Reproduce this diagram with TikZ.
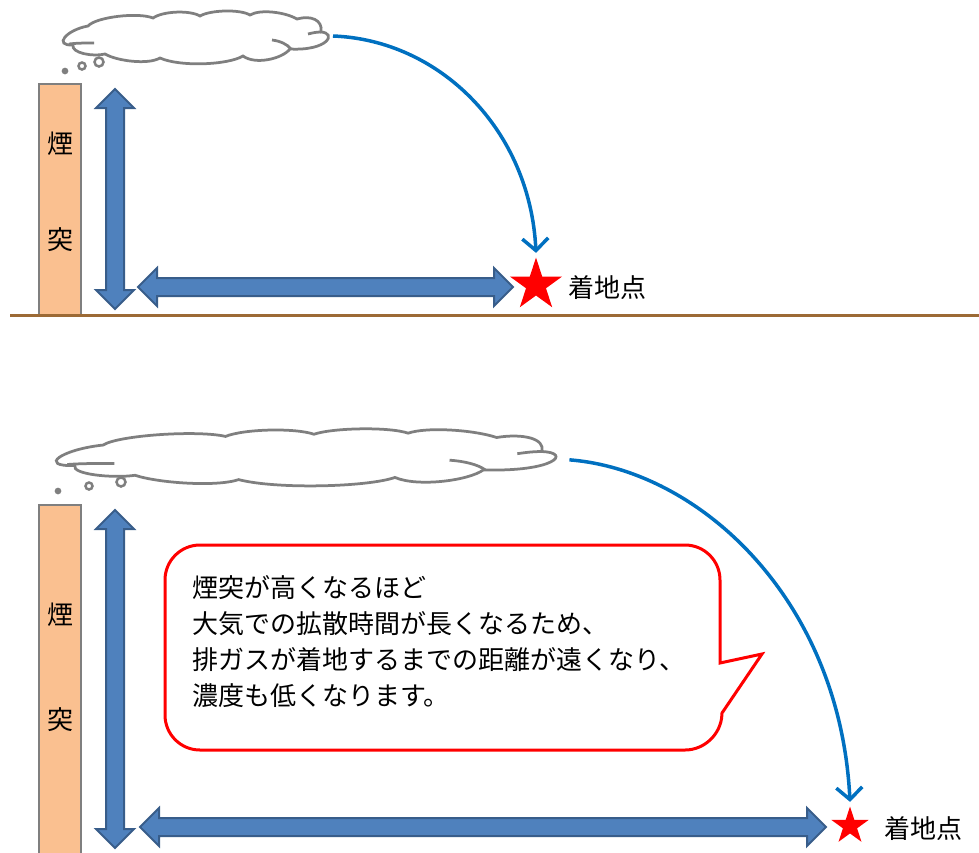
\documentclass[tikz,border=0pt]{standalone}
\usepackage{fontspec}
\setmainfont{Noto Sans CJK JP}
\usetikzlibrary{shapes.geometric,shapes.arrows,arrows.meta}

\definecolor{blockfill}{HTML}{4F81BD}
\definecolor{blockline}{HTML}{385D8A}
\definecolor{fallblue}{HTML}{0070C0}
\definecolor{stackfill}{HTML}{FAC090}
\definecolor{groundbrown}{HTML}{9C6A35}
\definecolor{smokegray}{HTML}{7F7F7F}

\tikzset{
  smokecloud/.pic={
    \draw [draw=smokegray,fill=white,line width=2.75pt]
      (10,32) .. controls +(-20,1) and +(-22,4) .. (25,13)
      .. controls +(8,-9) and +(-15,-6) .. (90,5)
      .. controls +(10,-7) and +(-10,-6) .. (137,3)
      .. controls +(10,-6) and +(-10,-6) .. (187,2)
      .. controls +(10,-6) and +(-12,-7) .. (234,6)
      .. controls +(14,-4) and +(2,-12) .. (258,19)
      .. controls +(16,1) and +(38,2) .. (227,36)
      .. controls +(-8,10) and +(12,9) .. (180,43)
      .. controls +(-15,9) and +(20,9) .. (97,45)
      .. controls +(-12,7) and +(12,7) .. (42,41)
      .. controls +(-12,3) and +(-2,8) .. (10,32) -- cycle;
    \draw [smokegray,line width=2.75pt] (6,31) .. controls (14,30) and (22,30) .. (31,30);
    \draw [smokegray,line width=2.75pt] (209,27) .. controls (217,28) and (224,31) .. (228,36);
    \draw [smokegray,line width=2.75pt] (245,21) .. controls (249,20) and (253,19) .. (258,19);
    \coordinate (-out) at (270,23);
  },
}

\begin{document}
\begin{tikzpicture}[x=1pt,y=-1pt]
  \useasboundingbox (0,0) rectangle (979,852);
  \begin{scope}[
    every node/.style={
      font=\fontsize{26}{36}\selectfont,
      inner sep=0pt,
    },
    stack/.style={
      rectangle,
      draw=smokegray,
      fill=stackfill,
      line width=2.5pt,
      minimum width=42pt,
    },
    blockarrow/.style={
      double arrow,
      draw=blockline,
      fill=blockfill,
      line width=2pt,
      inner ysep=8pt,
      minimum width=36pt,
      double arrow head extend=10pt,
      double arrow tip angle=90,
    },
    landing/.style={
      star,
      star points=5,
      star point ratio=2.618,
      fill=red,
    },
    puff/.style={
      draw=smokegray,
      line width=2.5pt,
    },
    ]
    % upper case: low stack
    \node [stack,minimum height=231pt] (stackA) at (60,199.5) {};
    \node (stackAtop) at (60,144) {煙};
    \node (stackAbot) at (60,240) {突};
    \draw [groundbrown,line width=3pt] (10,315) -- (979,315);

    \node [blockarrow,minimum height=220pt,rotate=90] (riseA) at (115,199) {};
    \node [blockarrow,minimum height=375pt] (runA) at (325.5,287) {};

    \node [landing,minimum size=55pt] (starA) at (536,285) {};
    \node [anchor=west] (spotA) at (568,288) {着地点};

    \pic (cloudA) at (63,13) {smokecloud};
    \draw [puff,fill=smokegray] (65,71) circle [radius=2pt];
    \draw [puff] (82,66) circle [radius=3.5pt];
    \draw [puff] (99,62) circle [radius=4.5pt];

    % lower case: tall stack
    \node [stack,minimum height=360pt] (stackB) at (60,685) {};
    \node (stackBtop) at (60,615) {煙};
    \node (stackBbot) at (60,720) {突};

    \node [blockarrow,minimum height=338pt,rotate=90] (riseB) at (115,679) {};
    \node [blockarrow,minimum height=686pt] (runB) at (483,827) {};

    \node [landing,minimum size=39pt] (starB) at (850,826) {};
    \node [anchor=west] (spotB) at (884,829) {着地点};

    \pic [xscale=1.883,yscale=1.08] (cloudB) at (56,431) {smokecloud};
    \draw [puff,fill=smokegray] (58,491) circle [radius=2pt];
    \draw [puff] (89,486) circle [radius=3.5pt];
    \draw [puff] (121,482) circle [radius=4.5pt];

    % note
    \draw [red,line width=3pt,fill=white]
      (762,654) -- (720,663) [rounded corners=35pt] -- (720,545) -- (165,545)
      -- (165,750) -- (720,750) [sharp corners] -- (722,713) -- cycle;
    \node [anchor=north west,align=left] (note) at (192,575)
      {煙突が高くなるほど\\
       大気での拡散時間が長くなるため、\\
       排ガスが着地するまでの距離が遠くなり、\\
       濃度も低くなります。};
  \end{scope}
  \begin{scope}[
    fall/.style={
      draw=fallblue,
      line width=3.5pt,
      -{Straight Barb[length=12pt,width=26pt]},
    },
    ]
    % smoke falling down
    \draw [fall] (cloudA-out)
      .. controls (440,40) and (530,130) .. ([yshift=4pt]starA.north);
    \draw [fall] ([shift={(5pt,-4pt)}]cloudB-out)
      .. controls (700,470) and (840,600) .. ([yshift=4pt]starB.north);
  \end{scope}
\end{tikzpicture}
\end{document}
